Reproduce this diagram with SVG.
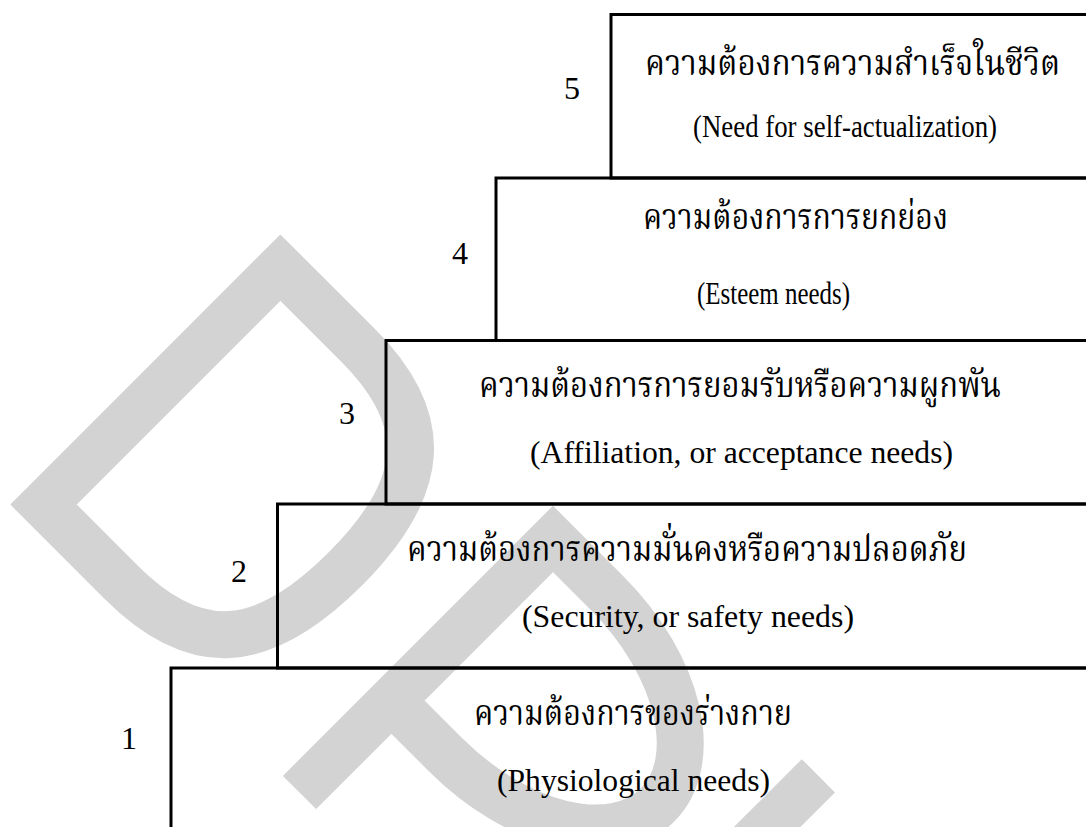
<svg xmlns="http://www.w3.org/2000/svg" width="1086" height="827" viewBox="0 0 1086 827">
<style>
.wm{fill:none;stroke:#d3d3d3;stroke-width:47;stroke-linejoin:miter;stroke-linecap:butt}
.box{fill:none;stroke:#000;stroke-width:3}
.th{font-family:"Noto Serif Thai","Noto Sans Thai","Liberation Serif",serif;font-size:36px;fill:#000}
.en{font-family:"Liberation Serif","Times New Roman",serif;font-size:31px;fill:#000}
.num{font-family:"Liberation Serif","Times New Roman",serif;font-size:32px;fill:#000;text-anchor:middle}
</style>
<rect width="1086" height="827" fill="#fff"/>
<g id="watermark">
<path class="wm" transform="translate(43.5,504.5) rotate(-45)" d="M0,0 L335,0 L335,110 C335,214 285,259 167.5,259 C50,259 0,214 0,110 Z"/>
<path class="wm" transform="translate(299.5,792.5) rotate(-45)" d="M0,0 L358.5,0 L358.5,76 C358.5,178.7 307.2,262 244,262 C180.8,262 130,178.7 130,76 L130,0"/>
<path class="wm" d="M818.4,775.8 L718,876"/>
</g>
<g id="connectors"/>
<g id="level1">
<rect class="box" x="171" y="668" width="1000" height="300"/>
<text class="num" x="129" y="749">1</text>
<text class="th" x="474" y="725" textLength="318" lengthAdjust="spacingAndGlyphs">ความต้องการของร่างกาย</text>
<text class="en" x="497" y="791" textLength="273" lengthAdjust="spacingAndGlyphs">(Physiological needs)</text>
</g>
<g id="level2">
<rect class="box" x="277.5" y="504" width="900" height="164"/>
<text class="num" x="239" y="582">2</text>
<text class="th" x="407" y="561" textLength="560" lengthAdjust="spacingAndGlyphs">ความต้องการความมั่นคงหรือความปลอดภัย</text>
<text class="en" x="522" y="627" textLength="332" lengthAdjust="spacingAndGlyphs">(Security, or safety needs)</text>
</g>
<g id="level3">
<rect class="box" x="386" y="340.5" width="800" height="163.5"/>
<text class="num" x="347" y="424">3</text>
<text class="th" x="479" y="397" textLength="522" lengthAdjust="spacingAndGlyphs">ความต้องการการยอมรับหรือความผูกพัน</text>
<text class="en" x="530" y="463" textLength="423" lengthAdjust="spacingAndGlyphs">(Affiliation, or acceptance needs)</text>
</g>
<g id="level4">
<rect class="box" x="496" y="178" width="700" height="162.5"/>
<text class="num" x="460" y="264">4</text>
<text class="th" x="643" y="229" textLength="305" lengthAdjust="spacingAndGlyphs">ความต้องการการยกย่อง</text>
<text class="en" x="697" y="304" textLength="153" lengthAdjust="spacingAndGlyphs">(Esteem needs)</text>
</g>
<g id="level5">
<rect class="box" x="611" y="14.5" width="600" height="163.5"/>
<text class="num" x="572" y="99">5</text>
<text class="th" x="645" y="75" textLength="415" lengthAdjust="spacingAndGlyphs">ความต้องการความสำเร็จในชีวิต</text>
<text class="en" x="693" y="137" textLength="304" lengthAdjust="spacingAndGlyphs">(Need for self-actualization)</text>
</g>
</svg>
